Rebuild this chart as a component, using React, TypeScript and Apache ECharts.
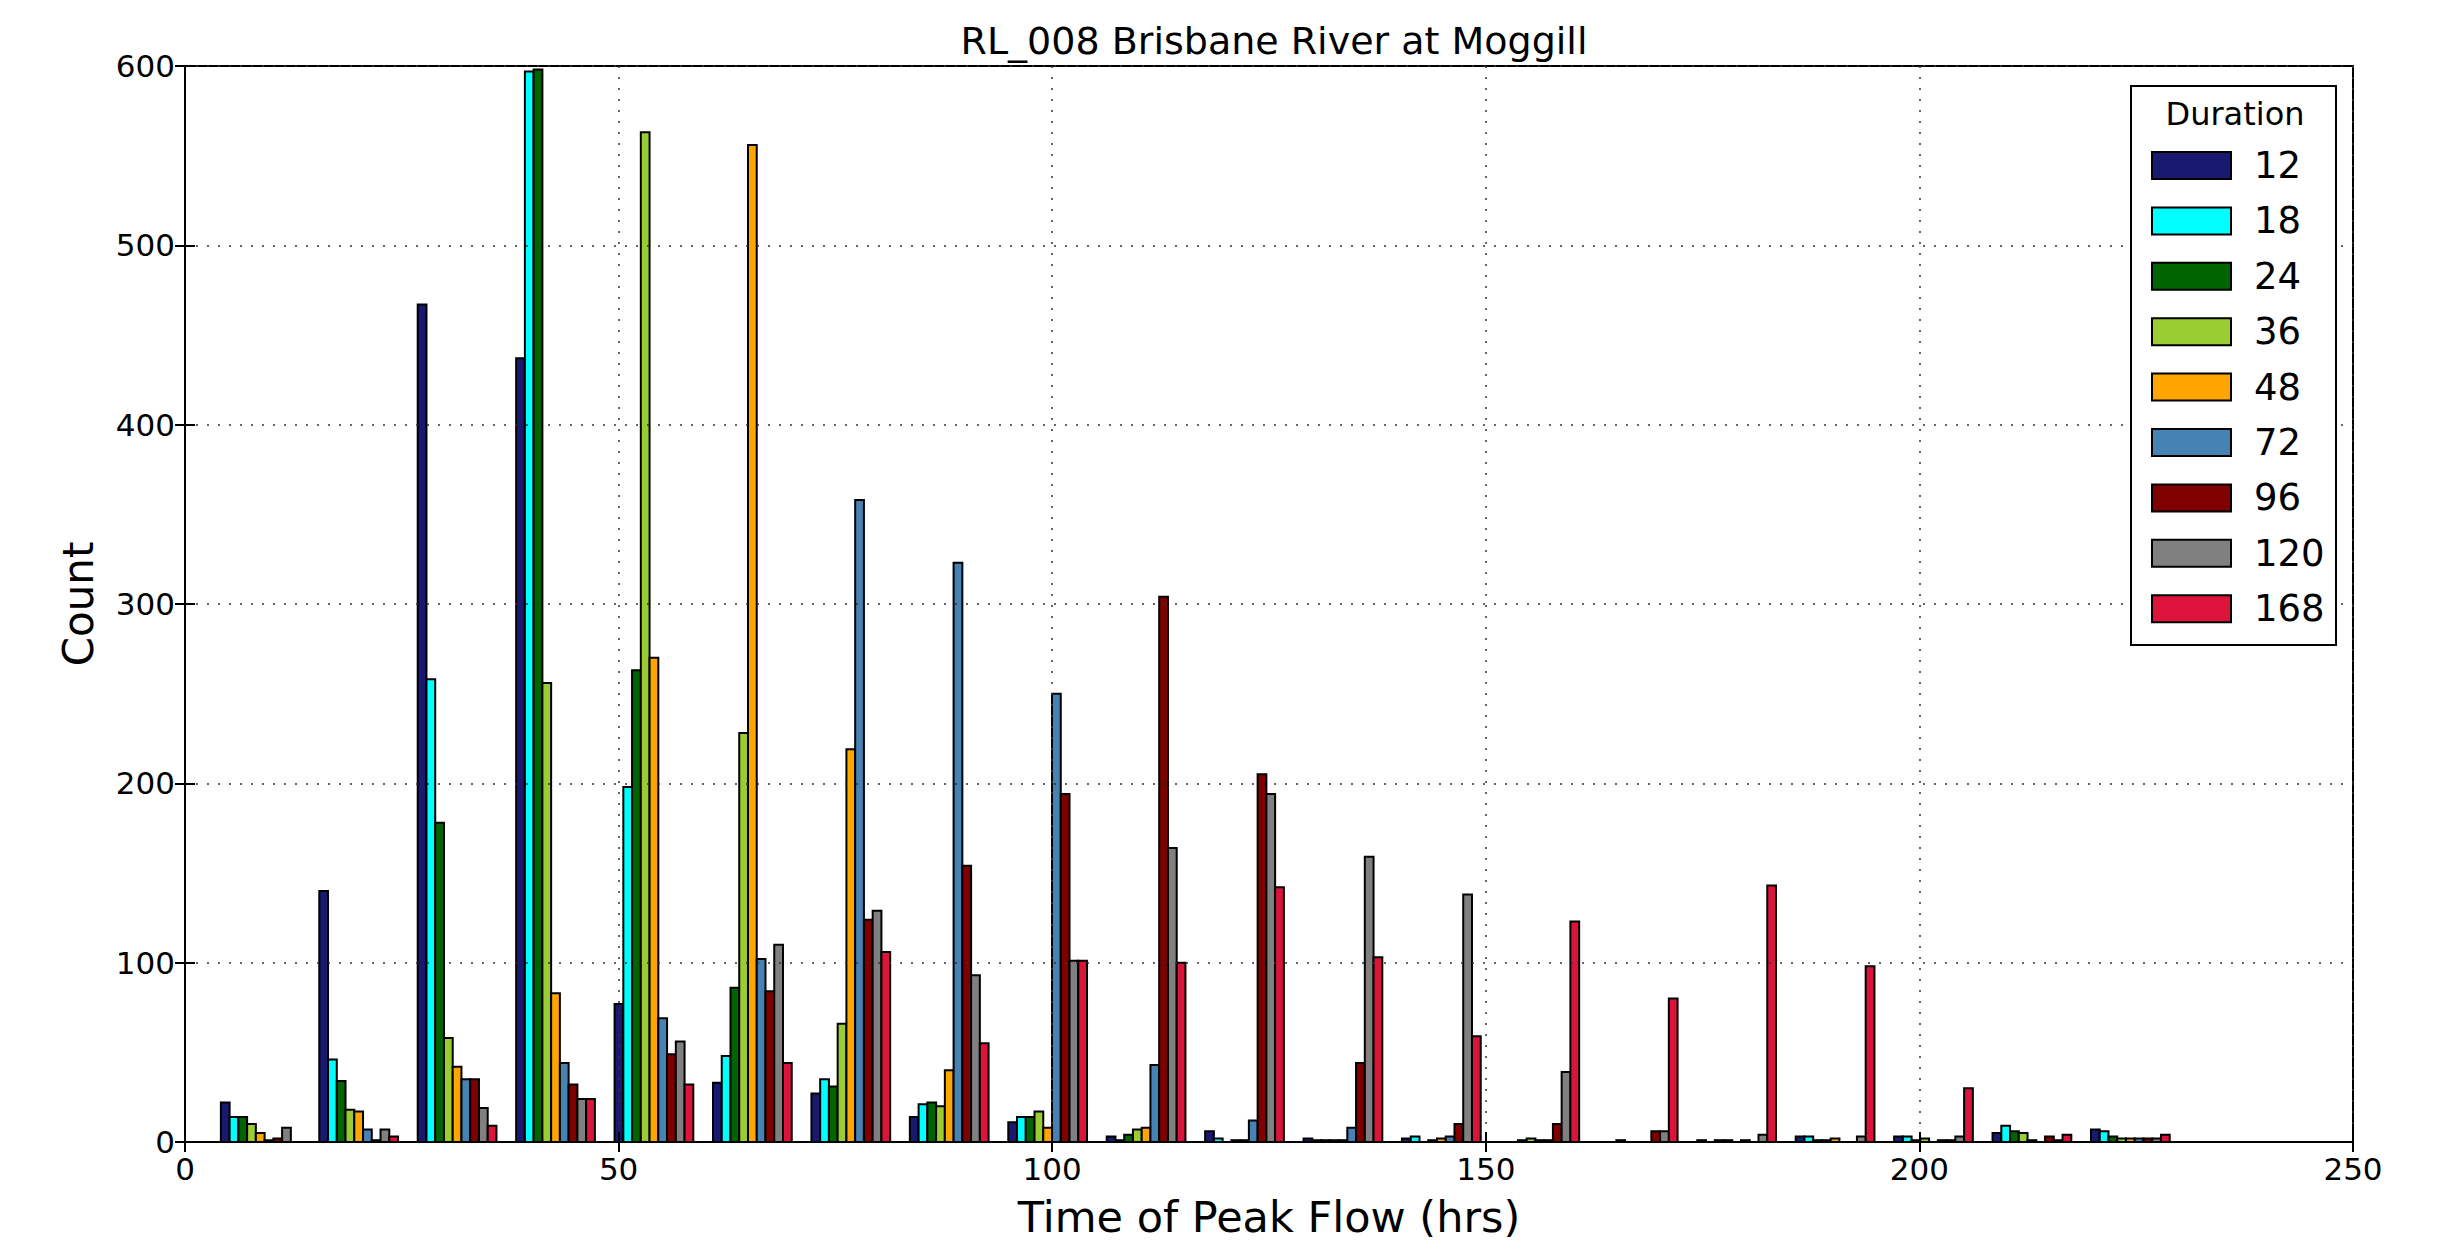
import React, { useEffect, useRef } from "react";
import * as echarts from "echarts";

const TITLE = "RL_008 Brisbane River at Moggill";
const X_LABEL = "Time of Peak Flow (hrs)";
const Y_LABEL = "Count";
const LEGEND_TITLE = "Duration";

const DURATIONS = ["12", "18", "24", "36", "48", "72", "96", "120", "168"];
const COLORS = ["#191970", "#00ffff", "#006400", "#9acd32", "#ffa500", "#4682b4", "#800000", "#808080", "#dc143c"];

const BIN_START = 3;
const BIN_WIDTH = 11.35;

const D12 = [22, 140, 467, 437, 77, 33, 27, 14, 11, 3, 6, 2, 2, 0, 0, 1, 3, 3, 5, 7];
const D18 = [14, 46, 258, 597, 198, 48, 35, 21, 14, 1, 2, 1, 3, 0, 0, 0, 3, 3, 9, 6];
const D24 = [14, 34, 178, 598, 263, 86, 31, 22, 14, 4, 0, 1, 0, 1, 1, 1, 1, 1, 6, 3];
const D36 = [10, 18, 58, 256, 563, 228, 66, 20, 17, 7, 1, 1, 1, 2, 0, 1, 1, 2, 5, 2];
const D48 = [5, 17, 42, 83, 270, 556, 219, 40, 8, 8, 1, 1, 2, 1, 0, 0, 2, 0, 1, 2];
const D72 = [1, 7, 35, 44, 69, 102, 358, 323, 250, 43, 12, 8, 3, 1, 0, 1, 0, 1, 0, 2];
const D96 = [2, 1, 35, 32, 49, 84, 124, 154, 194, 304, 205, 44, 10, 10, 6, 0, 0, 1, 3, 2];
const D120 = [8, 7, 19, 24, 56, 110, 129, 93, 101, 164, 194, 159, 138, 39, 6, 4, 3, 3, 1, 2];
const D168 = [0, 3, 9, 24, 32, 44, 106, 55, 101, 100, 142, 103, 59, 123, 80, 143, 98, 30, 4, 4];

const SERIES_COUNTS = [D12, D18, D24, D36, D48, D72, D96, D120, D168];

const FONT = "DejaVu Sans";

export default function App() {
  const ref = useRef<HTMLDivElement>(null);
  useEffect(() => {
    document.body.style.margin = "0";
    if (!ref.current) return;
    const chart = echarts.init(ref.current, null, { renderer: "svg" });
    const nSeries = SERIES_COUNTS.length;
    const barW = (BIN_WIDTH * 0.8) / nSeries;

    const series = SERIES_COUNTS.map((counts, s) => ({
      name: DURATIONS[s],
      type: "custom",
      itemStyle: { color: COLORS[s] },
      encode: { x: [0, 1], y: 2 },
      data: counts.map((c, b) => {
        const x0 = BIN_START + b * BIN_WIDTH + 0.1 * BIN_WIDTH + s * barW;
        return [x0, x0 + barW, c];
      }),
      renderItem: (params: any, api: any) => {
        const p0 = api.coord([api.value(0), api.value(2)]);
        const p1 = api.coord([api.value(1), 0]);
        return {
          type: "rect",
          shape: { x: p0[0], y: p0[1], width: p1[0] - p0[0], height: p1[1] - p0[1] },
          style: { fill: api.visual("color"), stroke: "#000", lineWidth: 2 },
        };
      },
      z: 2,
    }));

    const tickStyle = { color: "#000", width: 2 };
    const gridLine = { show: true, lineStyle: { color: "#333", width: 1.5, type: [2, 9] } };

    chart.setOption({
      animation: false,
      backgroundColor: "#fff",
      title: {
        text: TITLE,
        left: 1269,
        top: 17,
        textAlign: "center",
        textStyle: { fontFamily: FONT, fontSize: 38, fontWeight: "normal", color: "#000" },
      },
      grid: {
        left: 185,
        top: 66,
        width: 2168,
        height: 1076,
        show: true,
        borderColor: "#000",
        borderWidth: 2,
        backgroundColor: "transparent",
      },
      xAxis: [
        {
          type: "value",
          min: 0,
          max: 250,
          interval: 50,
          z: 5,
          name: X_LABEL,
          nameLocation: "middle",
          nameGap: 53,
          nameTextStyle: { fontFamily: FONT, fontSize: 43, color: "#000" },
          axisLine: { show: true, lineStyle: tickStyle },
          axisTick: { show: true, inside: true, length: 10, lineStyle: tickStyle },
          axisLabel: { fontFamily: FONT, fontSize: 31, color: "#000", margin: 11 },
          splitLine: gridLine,
        },
        {
          type: "value",
          position: "top",
          min: 0,
          max: 250,
          interval: 50,
          z: 5,
          axisLine: { show: true, lineStyle: tickStyle },
          axisTick: { show: true, inside: true, length: 10, lineStyle: tickStyle },
          axisLabel: { show: false },
          splitLine: { show: false },
        },
      ],
      yAxis: [
        {
          type: "value",
          min: 0,
          max: 600,
          interval: 100,
          z: 5,
          name: Y_LABEL,
          nameLocation: "middle",
          nameGap: 86,
          nameTextStyle: { fontFamily: FONT, fontSize: 42, color: "#000" },
          axisLine: { show: true, lineStyle: tickStyle },
          axisTick: { show: true, inside: true, length: 10, lineStyle: tickStyle },
          axisLabel: { fontFamily: FONT, fontSize: 31, color: "#000", margin: 10 },
          splitLine: gridLine,
        },
        {
          type: "value",
          position: "right",
          min: 0,
          max: 600,
          interval: 100,
          z: 5,
          axisLine: { show: true, lineStyle: tickStyle },
          axisTick: { show: true, inside: true, length: 10, lineStyle: tickStyle },
          axisLabel: { show: false },
          splitLine: { show: false },
        },
      ],
      legend: {
        data: DURATIONS,
        orient: "vertical",
        left: 2146,
        top: 142,
        icon: "rect",
        itemWidth: 79,
        itemHeight: 27,
        itemGap: 18.4,
        z: 20,
        itemStyle: { borderColor: "#000", borderWidth: 2 },
        textStyle: { fontFamily: FONT, fontSize: 37, color: "#000", padding: [0, 0, 0, 18] },
        selectedMode: false,
      },
      graphic: [
        {
          type: "rect",
          z: 10,
          shape: { x: 2131, y: 86, width: 205, height: 559 },
          style: { fill: "#fff", stroke: "#000", lineWidth: 2 },
        },
        {
          type: "text",
          z: 11,
          x: 2235,
          y: 114,
          style: {
            text: LEGEND_TITLE,
            fontFamily: FONT,
            fontSize: 32,
            fill: "#000",
            textAlign: "center",
            textVerticalAlign: "middle",
          },
        },
      ],
      series,
    });
    return () => chart.dispose();
  }, []);
  return <div ref={ref} style={{ width: 2460, height: 1255 }} />;
}
